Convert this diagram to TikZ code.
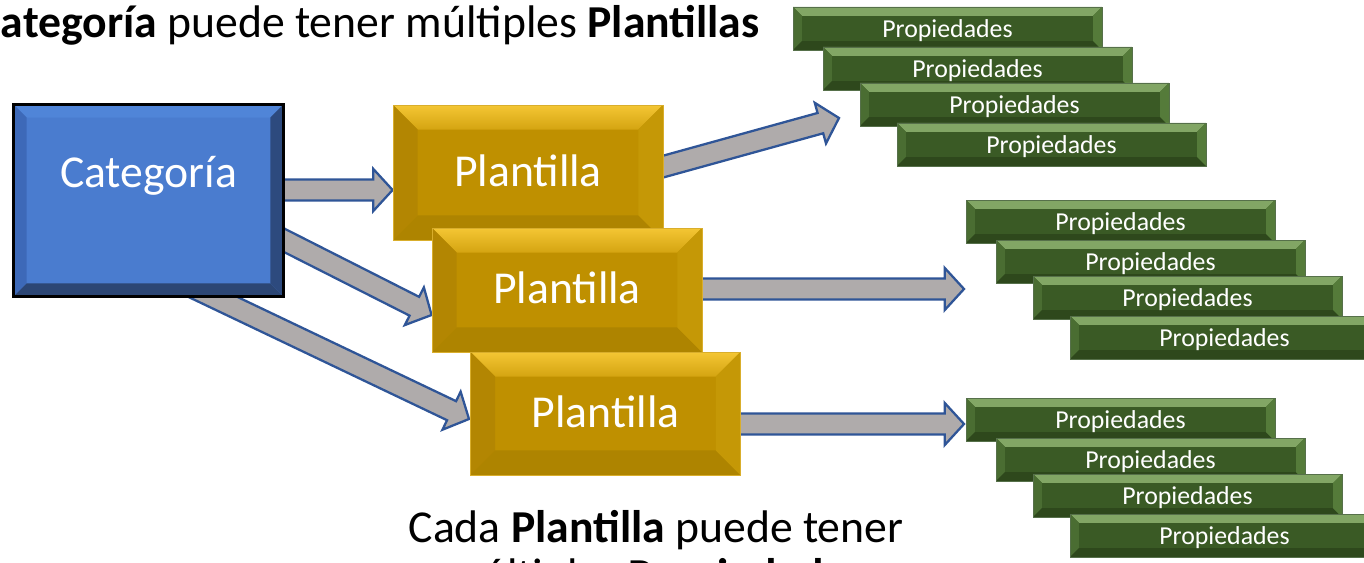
\documentclass[tikz,border=0pt]{standalone}
\usepackage{fontspec}
\setmainfont{Carlito}
\usetikzlibrary{calc,backgrounds}

\definecolor{catblue}{HTML}{4A7CCF}
\definecolor{catTop}{HTML}{5085D8}
\definecolor{catLeft}{HTML}{3D69B8}
\definecolor{catRight}{HTML}{2D4A7E}
\definecolor{catBottom}{HTML}{2C4674}
\definecolor{tplgold}{HTML}{BF9000}
\definecolor{tplTopA}{HTML}{F4C634}
\definecolor{tplTopB}{HTML}{D4A411}
\definecolor{tplLeft}{HTML}{B38602}
\definecolor{tplRight}{HTML}{C59806}
\definecolor{tplBottom}{HTML}{AE8400}
\definecolor{tplEdge}{HTML}{D9AE2C}
\definecolor{propgreen}{HTML}{3A5A25}
\definecolor{propTop}{HTML}{82A665}
\definecolor{propLeft}{HTML}{4A6D32}
\definecolor{propRight}{HTML}{557B3A}
\definecolor{propBottom}{HTML}{2E481C}
\definecolor{propEdge}{HTML}{56704A}
\definecolor{arrowgray}{HTML}{AFABAB}
\definecolor{arrowblue}{HTML}{2F5597}

\newcommand{\bigfont}{\fontsize{26}{27.2}\selectfont}
\newcommand{\smallfont}{\fontsize{14.7}{16}\selectfont}

% bevel facets: top, left, bottom, right, depth
\newcommand{\bevelfaces}[5]{%
  \coordinate (bNW) at (path picture bounding box.north west);
  \coordinate (bNE) at (path picture bounding box.north east);
  \coordinate (bSW) at (path picture bounding box.south west);
  \coordinate (bSE) at (path picture bounding box.south east);
  \fill[#1] (bNW) -- (bNE) -- ([shift={(-#5,-#5)}]bNE) -- ([shift={(#5,-#5)}]bNW) -- cycle;
  \fill[#2] (bNW) -- (bSW) -- ([shift={(#5,#5)}]bSW) -- ([shift={(#5,-#5)}]bNW) -- cycle;
  \fill[#3] (bSW) -- (bSE) -- ([shift={(-#5,#5)}]bSE) -- ([shift={(#5,#5)}]bSW) -- cycle;
  \fill[#4] (bNE) -- (bSE) -- ([shift={(-#5,#5)}]bSE) -- ([shift={(-#5,-#5)}]bNE) -- cycle;
}

% block arrow from #1 to #2
\newcommand{\blockarrow}[2]{%
  \coordinate (ah) at ($(#2)!11pt!(#1)$);
  \filldraw[blockarrow] ($(#1)!6pt!90:(#2)$) -- ($(ah)!6pt!90:(#2)$)
    -- ($(ah)!12pt!90:(#2)$) -- (#2) -- ($(ah)!12pt!-90:(#2)$)
    -- ($(ah)!6pt!-90:(#2)$) -- ($(#1)!6pt!-90:(#2)$) -- cycle;
}

\tikzset{blockarrow/.style={fill=arrowgray, draw=arrowblue, line width=1.3pt, line join=miter}}
\tikzset{box/.style={rectangle, inner sep=0pt, text=white}}
\tikzset{catbox/.style={box, minimum width=5.4cm, minimum height=3.84cm, draw=black, line width=1.7pt,
    fill=catblue, font=\bigfont, text height=0.65cm, text depth=1.15cm,
    path picture={\bevelfaces{catTop}{catLeft}{catBottom}{catRight}{7.5pt}}}}
\tikzset{tplbox/.style={box, minimum width=5.4cm, draw=tplEdge, line width=0.5pt,
    fill=tplgold, font=\bigfont, text height=0.55cm, text depth=0pt,
    path picture={\bevelfaces{{top color=tplTopA, bottom color=tplTopB}}{tplLeft}{tplBottom}{tplRight}{14pt}}}}
\tikzset{propbox/.style={box, minimum width=6.18cm, minimum height=0.86cm, draw=propEdge, line width=0.4pt,
    fill=propgreen, font=\smallfont, text height=0.36cm, text depth=0pt,
    path picture={\bevelfaces{propTop}{propLeft}{propBottom}{propRight}{5pt}}}}
\tikzset{caption/.style={font=\bigfont, text=black, inner sep=0pt}}

\begin{document}
\begin{tikzpicture}[x=0.02cm, y=-0.02cm]
  \useasboundingbox (0,0) rectangle (1364,563);

  \node[caption, anchor=base east] (head) at (760,38)
    {Cada \textbf{Categoría} puede tener múltiples \textbf{Plantillas}};

  \node[catbox] (cat) at (148.5,200.5) {Categoría};

  \node[tplbox, minimum height=2.7cm] (tpl1) at (528,172.5) {Plantilla};
  \node[tplbox, minimum height=2.48cm] (tpl2) at (567,290) {Plantilla};
  \node[tplbox, minimum height=2.46cm] (tpl3) at (605.5,413.5) {Plantilla};

  % stacks of properties
  \foreach \g/\gx/\gy in {1/793/7, 2/966/200, 3/966/398}{
    \foreach \i/\dx/\dy in {1/0/0, 2/30/40, 3/67/76, 4/104/116}{
      \node[propbox] (prop\g\i) at (\gx+\dx+154.5, \gy+\dy+21.5) {Propiedades};
    }
  }

  \node[caption, align=center, anchor=base] (note) at (656,590)
    {Cada \textbf{Plantilla} puede tener\\múltiples \textbf{Propiedades}};

  % arrows behind the boxes
  \coordinate (a1e) at (tpl1.west |- 0,190);
  \coordinate (a1s) at (270,190);
  \coordinate (a2e) at (tpl2.west |- 0,315);
  \coordinate (a2s) at (252,224);
  \coordinate (a3e) at (469,419);
  \coordinate (a3s) at (190,286);
  \coordinate (a4e) at (839,118);
  \coordinate (a4s) at (640,173);
  \coordinate (a5e) at (964,289);
  \coordinate (a5s) at (690,289);
  \coordinate (a6e) at (964,424);
  \coordinate (a6s) at (730,424);
  \begin{scope}[on background layer]
    \blockarrow{a1s}{a1e}
    \blockarrow{a2s}{a2e}
    \blockarrow{a3s}{a3e}
    \blockarrow{a4s}{a4e}
    \blockarrow{a5s}{a5e}
    \blockarrow{a6s}{a6e}
  \end{scope}
\end{tikzpicture}
\end{document}
